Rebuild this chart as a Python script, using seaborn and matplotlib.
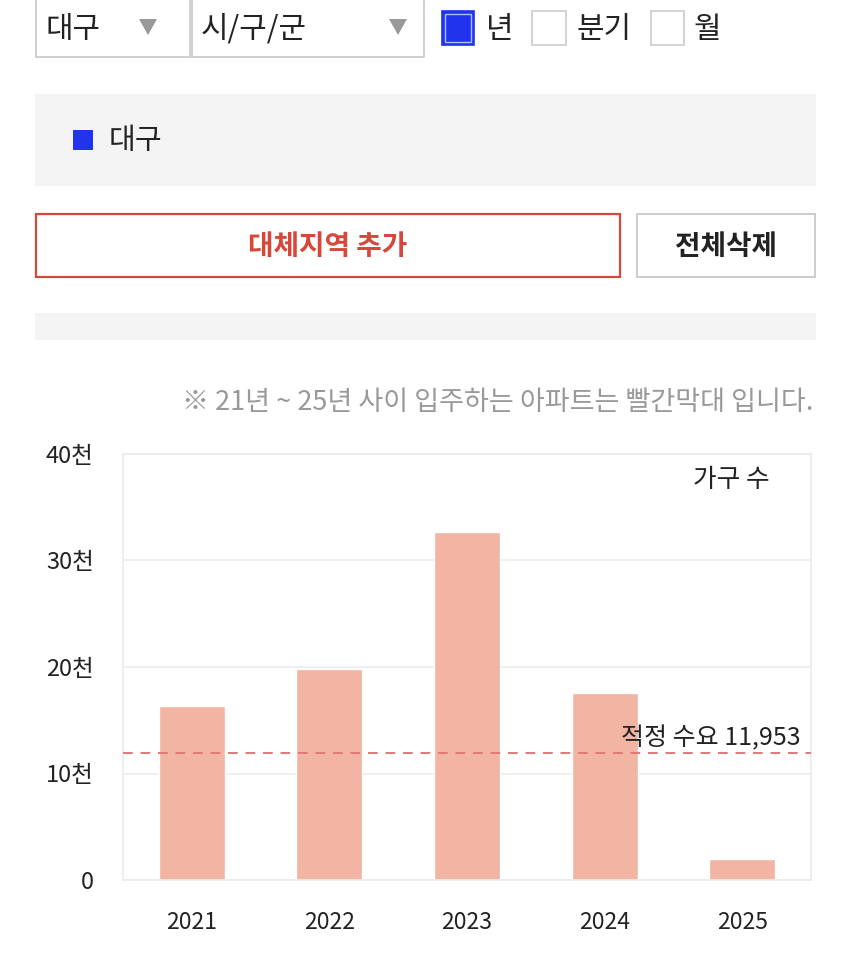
import matplotlib
matplotlib.use("Agg")
import matplotlib.pyplot as plt
from matplotlib.patches import Rectangle, Polygon
import seaborn as sns
import pandas as pd

years = ["2021", "2022", "2023", "2024", "2025"]
households = [16300, 19800, 32700, 17600, 2000]
demand = 11953
y_ticks = [0, 10000, 20000, 30000, 40000]
y_tick_labels = ["0", "10천", "20천", "30천", "40천"]

sns.set_theme(style="white")
plt.rcParams["font.family"] = ["Noto Sans CJK KR", "DejaVu Sans"]

W, H = 850, 973
fig = plt.figure(figsize=(W / 100, H / 100), dpi=100)
fig.patch.set_facecolor("white")


def fx(x):
    return x / W


def fy(y):
    return 1 - y / H


def rect(x0, y0, x1, y1, fc="none", ec="none", lw=1.0):
    fig.patches.append(Rectangle((fx(x0), fy(y1)), fx(x1) - fx(x0), fy(y0) - fy(y1),
                                 transform=fig.transFigure, facecolor=fc, edgecolor=ec,
                                 linewidth=lw))


def text(x, y, s, size, color="#222222", ha="left", va="center", weight="normal"):
    fig.text(fx(x), fy(y), s, fontsize=size, color=color, ha=ha, va=va, fontweight=weight)


def tri(cx, cy, w=18, h=16, color="#999999"):
    pts = [(fx(cx - w / 2), fy(cy - h / 2)), (fx(cx + w / 2), fy(cy - h / 2)), (fx(cx), fy(cy + h / 2))]
    fig.patches.append(Polygon(pts, closed=True, transform=fig.transFigure, facecolor=color, edgecolor="none"))


# Dropdowns
rect(36, -5, 190, 57, fc="white", ec="#C8C8C8", lw=1.2)
text(46, 29, "대구", 21.5)
tri(148, 27)
rect(192, -5, 424, 57, fc="white", ec="#C8C8C8", lw=1.2)
text(201, 29, "시/구/군", 21.5)
tri(398, 27)

# Checkboxes
rect(442, 11, 474, 45, fc="#2233EE", ec="#2233EE", lw=1.2)
rect(445, 14, 471, 42, fc="none", ec="#AFC0FF", lw=1.0)
text(486, 29, "년", 21.5)
rect(532, 11, 566, 45, fc="white", ec="#CCCCCC", lw=1.2)
text(576, 29, "분기", 21.5)
rect(651, 11, 684, 45, fc="white", ec="#CCCCCC", lw=1.2)
text(694, 29, "월", 21.5)

# Legend panel
rect(35, 94, 816, 186, fc="#F4F4F4")
rect(73, 130, 93, 150, fc="#2233EE")
text(109, 141, "대구", 21)

# Buttons
rect(36, 214, 620, 277, fc="white", ec="#D6473C", lw=1.6)
text(328, 247, "대체지역 추가", 20, color="#D6473C", ha="center", weight="bold")
rect(637, 214, 815, 277, fc="white", ec="#CCCCCC", lw=1.4)
text(726, 247, "전체삭제", 20, color="#222222", ha="center", weight="bold")

# Gray strip
rect(35, 313, 816, 340, fc="#F4F4F4")

# Note
text(813, 403, "※ 21년 ~ 25년 사이 입주하는 아파트는 빨간막대 입니다.", 19.5, color="#999999", ha="right")

# Chart
ax = fig.add_axes([fx(123), fy(880), fx(811) - fx(123), fy(454) - fy(880)])
df = pd.DataFrame({"year": years, "households": households})
sns.barplot(data=df, x="year", y="households", color="#F2B4A3", saturation=1,
            width=0.48, ax=ax, zorder=2)
ax.set_ylim(0, 40000)
ax.set_xlim(-0.5, 4.5)
ax.set_yticks(y_ticks)
ax.set_yticklabels(y_tick_labels)
ax.yaxis.grid(True, color="#ECECEC", linewidth=1.2, zorder=0)
ax.set_axisbelow(True)
for sp in ax.spines.values():
    sp.set_color("#EBEBEB")
    sp.set_linewidth(1.2)
ax.set_xlabel("")
ax.set_ylabel("")
ax.tick_params(axis="y", length=0, pad=21, labelsize=17, labelcolor="#222222")
ax.tick_params(axis="x", length=0, pad=22, labelsize=16.5, labelcolor="#222222")
ax.axhline(demand, color="#E07A78", linestyle=(0, (5, 4)), linewidth=1.4, zorder=3)
ax.text(0.985, demand + 1350, f"적정 수요 {demand:,}", transform=ax.get_yaxis_transform(),
        ha="right", va="center", fontsize=18, color="#222222", zorder=4)
ax.text(0.94, 0.94, "가구 수", transform=ax.transAxes, ha="right", va="center",
        fontsize=18.5, color="#222222")

fig.savefig("out.png", dpi=100)
